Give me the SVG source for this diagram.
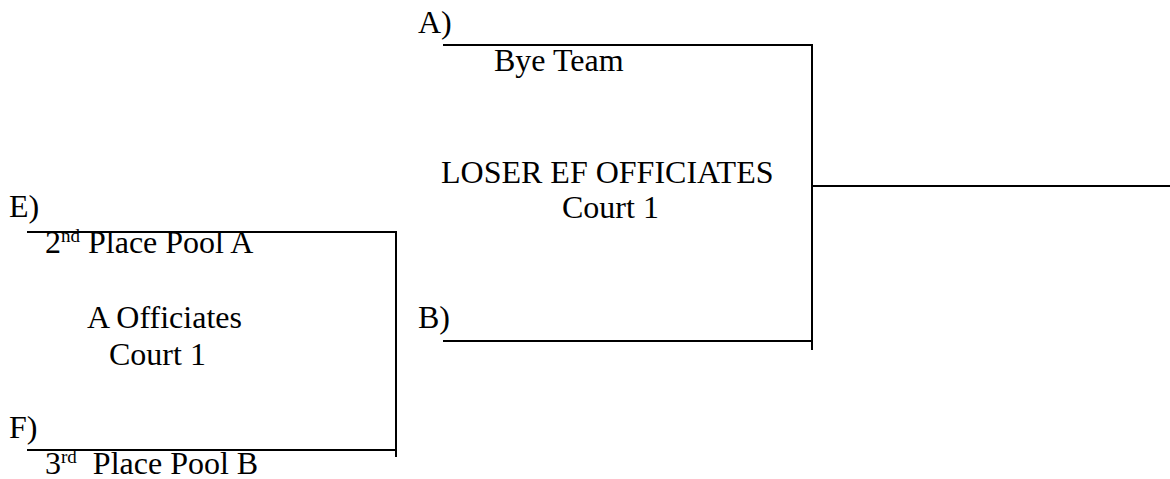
<svg xmlns="http://www.w3.org/2000/svg" width="1170" height="479" viewBox="0 0 1170 479">
<style>
.t{font-family:"Liberation Serif","Times New Roman",serif;font-size:32px;fill:#000}
.sup{font-size:19px}
.ln{stroke:#000;stroke-width:2;fill:none}
</style>
<rect width="1170" height="479" fill="#fff"/>
<g id="connectors">
<path class="ln" d="M27 232H396V457"/>
<path class="ln" d="M27 450H396"/>
<path class="ln" d="M443 45H812V350"/>
<path class="ln" d="M443 341H812"/>
<path class="ln" d="M812 186H1170"/>
</g>
<g id="node-E"><text class="t" x="9" y="217">E)</text><text class="t" x="45" y="253">2<tspan class="sup" dy="-11">nd</tspan><tspan dy="11"> Place Pool A</tspan></text></g>
<g id="node-F"><text class="t" x="9" y="438">F)</text><text class="t" x="45" y="474">3<tspan class="sup" dy="-11">rd</tspan><tspan dy="11">&#160; Place Pool B</tspan></text></g>
<g id="node-EF"><text class="t" x="87" y="328">A Officiates</text><text class="t" x="109" y="365">Court 1</text></g>
<g id="node-A"><text class="t" x="418" y="33">A)</text><text class="t" x="494" y="71">Bye Team</text></g>
<g id="node-B"><text class="t" x="418" y="328">B)</text></g>
<g id="node-AB"><text class="t" x="441" y="183">LOSER EF OFFICIATES</text><text class="t" x="562" y="218">Court 1</text></g>
</svg>
